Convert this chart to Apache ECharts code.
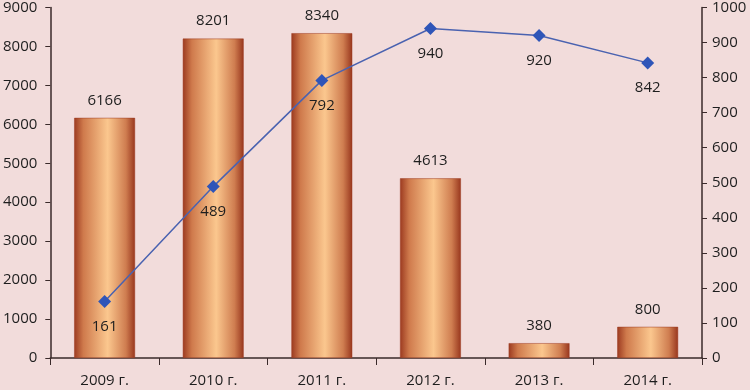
<!DOCTYPE html>
<html><head><meta charset="utf-8">
<script src="https://cdn.jsdelivr.net/npm/echarts@6/dist/echarts.min.js"></script>
<style>html,body{margin:0;padding:0;background:#f2dcdb}#c{width:750px;height:390px}</style>
</head><body><div id="c"></div>
<script>
const categories = ['2009 г.', '2010 г.', '2011 г.', '2012 г.', '2013 г.', '2014 г.'];
const barValues = [6166, 8201, 8340, 4613, 380, 800];
const lineValues = [161, 489, 792, 940, 920, 842];

const chart = echarts.init(document.getElementById('c'), null, {renderer: 'canvas'});
const font = '"Open Sans", "DejaVu Sans", sans-serif';
const axisColor = '#3a2a2a';
const plain = v => String(v);
chart.setOption({
  backgroundColor: '#f2dcdb',
  animation: false,
  grid: {left: 50, right: 48, top: 6, bottom: 32},
  xAxis: {
    type: 'category', data: categories,
    axisLine: {lineStyle: {color: axisColor, width: 1.5}},
    axisTick: {show: true, length: 7, lineStyle: {color: axisColor}},
    axisLabel: {color: '#1e1e1e', fontSize: 15, fontFamily: font, margin: 15}
  },
  yAxis: [
    {type: 'value', min: 0, max: 9000, interval: 1000, splitLine: {show: false},
     axisLine: {show: true, lineStyle: {color: axisColor, width: 1.5}},
     axisTick: {show: true, length: 5, lineStyle: {color: axisColor}},
     axisLabel: {color: '#1e1e1e', fontSize: 15, fontFamily: font, margin: 13, formatter: plain}},
    {type: 'value', min: 0, max: 1000, interval: 100, splitLine: {show: false},
     axisLine: {show: true, lineStyle: {color: axisColor, width: 1.5}},
     axisTick: {show: true, length: 5, lineStyle: {color: axisColor}},
     axisLabel: {color: '#1e1e1e', fontSize: 15, fontFamily: font, margin: 10, formatter: plain}}
  ],
  series: [
    {type: 'bar', data: barValues, yAxisIndex: 0, barWidth: '56%',
     itemStyle: {
       color: new echarts.graphic.LinearGradient(0, 0, 1, 0, [
         {offset: 0, color: '#9c3a20'},
         {offset: 0.15, color: '#cf7a4c'},
         {offset: 0.55, color: '#fbc78e'},
         {offset: 0.85, color: '#cf7d50'},
         {offset: 1, color: '#98361d'}
       ]),
       borderColor: '#9c3a20', borderWidth: 0.5
     },
     label: {show: true, position: 'top', distance: 10, color: '#1e1e1e', fontSize: 15, fontFamily: font}},
    {type: 'line', data: lineValues, yAxisIndex: 1,
     symbol: 'diamond', symbolSize: 13,
     lineStyle: {color: '#4a62b0', width: 1.5},
     itemStyle: {color: '#2f55b8'},
     label: {show: true, position: 'bottom', distance: 11, color: '#1e1e1e', fontSize: 15, fontFamily: font}}
  ]
});
</script></body></html>
